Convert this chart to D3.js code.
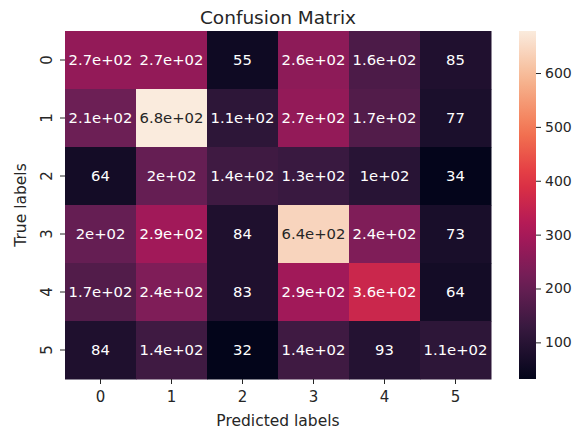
<!DOCTYPE html>
<html>
<head>
<meta charset="utf-8">
<script src="https://cdn.jsdelivr.net/npm/d3@7"></script>
<style>
  html, body { margin: 0; padding: 0; background: #ffffff; }
  svg { display: block; font-family: "DejaVu Sans", sans-serif; }
</style>
</head>
<body>
<svg id="chart" width="577" height="430"></svg>
<script>
// ---- data ----
const predictedLabels = ["0", "1", "2", "3", "4", "5"];
const trueLabels = ["0", "1", "2", "3", "4", "5"];
const row0 = [270, 270, 55, 260, 160, 85];
const row1 = [210, 678, 110, 270, 170, 77];
const row2 = [64, 200, 140, 130, 100, 34];
const row3 = [200, 290, 84, 640, 240, 73];
const row4 = [170, 240, 83, 290, 360, 64];
const row5 = [84, 140, 32, 140, 93, 110];
const matrix = [row0, row1, row2, row3, row4, row5];
const colorbarTicks = [100, 200, 300, 400, 500, 600];
const titleText = "Confusion Matrix";
const xLabelText = "Predicted labels";
const yLabelText = "True labels";

// rocket colormap stops
const rocketStops = ["#03051a", "#35193e", "#701f57", "#ad1759", "#e13342", "#f37651", "#f6b48f", "#faebdd"];

(function () {
// ---- layout ----
const mLeft = 65, mRight = 491, mTop = 31, mBottom = 379;
const cbLeft = 519, cbRight = 536;

const svg = d3.select("#chart");

const cells = [];
matrix.forEach((row, i) => row.forEach((v, j) => cells.push({ i, j, v })));
const allVals = cells.map(d => d.v);
const vmin = d3.min(allVals), vmax = d3.max(allVals);

const rocket = d3.scaleLinear()
  .domain(rocketStops.map((_, k) => k / (rocketStops.length - 1)))
  .range(rocketStops)
  .interpolate(d3.interpolateRgb);
const color = v => rocket((v - vmin) / (vmax - vmin));

const x = d3.scaleBand().domain(predictedLabels).range([mLeft, mRight]);
const y = d3.scaleBand().domain(trueLabels).range([mTop, mBottom]);

function fmt2g(v) {
  if (v < 100) return String(Math.round(v));
  const e = Math.floor(Math.log10(v));
  const m = +(v / Math.pow(10, e)).toPrecision(2);
  return String(m) + "e+" + String(e).padStart(2, "0");
}
function lum(c) {
  const r = d3.rgb(c);
  const f = u => { u /= 255; return u <= 0.03928 ? u / 12.92 : Math.pow((u + 0.055) / 1.055, 2.4); };
  return 0.2126 * f(r.r) + 0.7152 * f(r.g) + 0.0722 * f(r.b);
}

// cells
svg.append("g").selectAll("rect").data(cells).join("rect")
  .attr("x", d => x(predictedLabels[d.j]))
  .attr("y", d => y(trueLabels[d.i]))
  .attr("width", x.bandwidth() + 0.5)
  .attr("height", y.bandwidth() + 0.5)
  .attr("fill", d => color(d.v));

svg.append("g").selectAll("text").data(cells).join("text")
  .attr("x", d => x(predictedLabels[d.j]) + x.bandwidth() / 2)
  .attr("y", d => y(trueLabels[d.i]) + y.bandwidth() / 2)
  .attr("dy", "0.36em")
  .attr("text-anchor", "middle")
  .attr("font-size", 14.8)
  .attr("fill", d => lum(color(d.v)) > 0.408 ? "#262626" : "#ffffff")
  .text(d => fmt2g(d.v));

// x axis
const xAxis = d3.axisBottom(x).tickSize(5).tickPadding(7);
const gx = svg.append("g").attr("transform", `translate(0,${mBottom})`).call(xAxis);
gx.select(".domain").remove();
gx.selectAll(".tick line").attr("stroke", "#262626");
gx.selectAll(".tick text").attr("font-size", 15).attr("fill", "#262626").attr("font-family", "DejaVu Sans");

// y axis
const yAxis = d3.axisLeft(y).tickSize(5).tickPadding(6);
const gy = svg.append("g").attr("transform", `translate(${mLeft},0)`).call(yAxis);
gy.select(".domain").remove();
gy.selectAll(".tick line").attr("stroke", "#262626");
gy.selectAll(".tick text")
  .attr("font-size", 15).attr("fill", "#262626").attr("font-family", "DejaVu Sans")
  .attr("x", null).attr("dy", null)
  .attr("text-anchor", "middle")
  .attr("transform", "translate(-13,0) rotate(-90)");

// title & labels
svg.append("text").attr("x", (mLeft + mRight) / 2).attr("y", 23.5)
  .attr("text-anchor", "middle").attr("font-size", 18.5).attr("fill", "#262626").text(titleText);
svg.append("text").attr("x", (mLeft + mRight) / 2).attr("y", 426)
  .attr("text-anchor", "middle").attr("font-size", 15.5).attr("fill", "#262626").text(xLabelText);
svg.append("text").attr("transform", `translate(26,${(mTop + mBottom) / 2}) rotate(-90)`)
  .attr("text-anchor", "middle").attr("font-size", 15.5).attr("fill", "#262626").text(yLabelText);

// colorbar
const defs = svg.append("defs");
const grad = defs.append("linearGradient").attr("id", "cbgrad")
  .attr("x1", 0).attr("y1", 1).attr("x2", 0).attr("y2", 0);
d3.range(0, 1.0001, 0.05).forEach(t => {
  grad.append("stop").attr("offset", t).attr("stop-color", rocket(t));
});
const cbScale = d3.scaleLinear().domain([vmin, vmax]).range([mBottom, mTop]);
svg.append("rect").attr("x", cbLeft).attr("y", mTop)
  .attr("width", cbRight - cbLeft).attr("height", mBottom - mTop)
  .attr("fill", "url(#cbgrad)");
const cbAxis = d3.axisRight(cbScale).tickValues(colorbarTicks).tickSize(5).tickPadding(4).tickFormat(d3.format("d"));
const gc = svg.append("g").attr("transform", `translate(${cbRight},0)`).call(cbAxis);
gc.select(".domain").remove();
gc.selectAll(".tick line").attr("stroke", "#262626");
gc.selectAll(".tick text").attr("font-size", 14).attr("fill", "#262626").attr("font-family", "DejaVu Sans");
})();
</script>
</body>
</html>
